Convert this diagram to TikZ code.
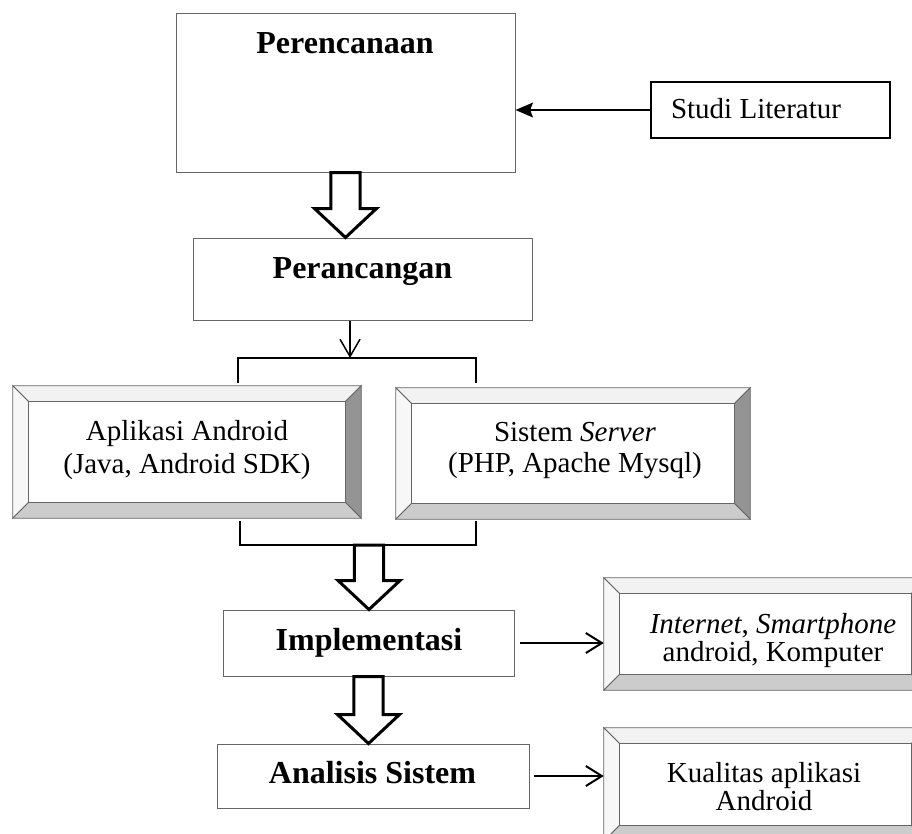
\documentclass[tikz,border=0pt]{standalone}
\usepackage{fontspec}
\setmainfont{Liberation Serif}
\usetikzlibrary{arrows.meta,fit,calc}

% Beveled frame drawn around an (invisible) rectangular node
% #1 = node name, #2 = bevel width
\newcommand\bevelframe[2]{%
  \filldraw[bevtop] (#1.north west) -- (#1.north east) -- ([shift={(-#2,#2)}]#1.north east) -- ([shift={(#2,#2)}]#1.north west) -- cycle;
  \filldraw[bevleft] (#1.north west) -- ([shift={(#2,#2)}]#1.north west) -- ([shift={(#2,-#2)}]#1.south west) -- (#1.south west) -- cycle;
  \filldraw[bevright] (#1.north east) -- (#1.south east) -- ([shift={(-#2,-#2)}]#1.south east) -- ([shift={(-#2,#2)}]#1.north east) -- cycle;
  \filldraw[bevbottom] (#1.south west) -- (#1.south east) -- ([shift={(-#2,-#2)}]#1.south east) -- ([shift={(#2,-#2)}]#1.south west) -- cycle;
  \filldraw[bevedge, fill=white] ([shift={(#2,#2)}]#1.north west) rectangle ([shift={(-#2,-#2)}]#1.south east);
}

% Outlined block arrow pointing down, from #1 (top) to #2 (tip)
\newcommand\blockarrow[2]{%
  \draw[hollowarrow] let \p1=#1, \p2=#2 in
    (\x1-10.9pt,\y1) -- (\x1-10.9pt,\y2+21.75pt) -- (\x1-23.25pt,\y2+21.75pt)
    -- (\x1,\y2) -- (\x1+23.25pt,\y2+21.75pt) -- (\x1+10.9pt,\y2+21.75pt)
    -- (\x1+10.9pt,\y1) -- cycle;
}

\begin{document}
\begin{tikzpicture}[
  x=0.75pt, y=-0.75pt,
  plainbox/.style={draw=black!60, line width=0.75pt, fill=white, inner sep=0pt},
  framebox/.style={draw=none, inner sep=0pt},
  bevedge/.style={draw=black!60, line width=0.6pt},
  bevtop/.style={bevedge, fill=black!5},
  bevleft/.style={bevedge, fill=black!3},
  bevright/.style={bevedge, fill=black!42},
  bevbottom/.style={bevedge, fill=black!20},
  boldlbl/.style={font=\fontsize{24}{28}\selectfont\bfseries, anchor=base, inner sep=0pt},
  lbl/.style={font=\fontsize{21.75}{26}\selectfont, anchor=base, inner sep=0pt},
  hollowarrow/.style={draw=black, line width=2.25pt, fill=white, line join=miter},
  bracketline/.style={draw=black, line width=1.5pt},
  sidearrow/.style={draw=black, line width=1.5pt, -{Straight Barb[length=12pt,width=15pt,line width=1.5pt]}},
  downarrow/.style={draw=black, line width=1.1pt, -{Straight Barb[length=13pt,width=15pt,line width=1.1pt]}},
  inarrow/.style={draw=black, line width=1.6pt, -{Stealth[length=13pt,width=11pt,inset=2pt]}},
]
\useasboundingbox (0,0) rectangle (912,833);
\clip (0,0) rectangle (912,833);
\fill[white] (0,0) rectangle (912,833);

% main process boxes
\node[plainbox, fit={(176,13) (515,172)}] (plan) {};
\node[plainbox, fit={(193,238) (532,320)}] (pcg) {};
\node[plainbox, fit={(223,610) (514,676)}] (impl) {};
\node[plainbox, fit={(217,744) (529,808)}] (ana) {};
\node[draw=black, line width=1.5pt, fill=white, inner sep=0pt, fit={(651,82) (890,138)}] (studi) {};

% beveled boxes
\node[framebox, fit={(13,386) (361,518)}] (app) {};
\node[framebox, fit={(396,388) (750,519)}] (srv) {};
\node[framebox, fit={(604,578) (927,690)}] (inet) {};
\node[framebox, fit={(604,728) (927,841)}] (kual) {};
\bevelframe{app}{16}
\bevelframe{srv}{16}
\bevelframe{inet}{16}
\bevelframe{kual}{16}

% labels
\node[boldlbl] (plan-t) at (345,53) {Perencanaan};
\node[boldlbl] (pcg-t) at (362.5,278) {Perancangan};
\node[boldlbl] (impl-t) at (369,650) {Implementasi};
\node[boldlbl] (ana-t) at (372.5,783) {Analisis Sistem};
\node[lbl] (studi-t) at (756,118) {Studi Literatur};
\node[lbl] (app-t1) at (187,440) {Aplikasi Android};
\node[lbl] (app-t2) at (187,473) {(Java, Android SDK)};
\node[lbl] (srv-t1) at (575,441) {Sistem \textit{Server}};
\node[lbl] (srv-t2) at (575,472) {(PHP, Apache Mysql)};
\node[lbl] (inet-t1) at (773,633) {\textit{Internet}, \textit{Smartphone}};
\node[lbl] (inet-t2) at (773,661) {android, Komputer};
\node[lbl] (kual-t1) at (764,782) {Kualitas aplikasi};
\node[lbl] (kual-t2) at (764,810) {Android};

% bracket joints
\coordinate (split) at (350,358);
\coordinate (brkL) at (238,383);
\coordinate (brkR) at (476,383);
\coordinate (join) at (369,545);
\coordinate (brkBL) at (240,521);
\coordinate (brkBR) at (476,521);

% connectors
\draw[inarrow] (studi.west) -- (studi.west -| plan.east);
\blockarrow{(plan.south)}{(plan.south |- pcg.north)}
\draw[downarrow] (pcg.south -| split) -- (split);
\draw[bracketline] (brkL) |- (split) -| (brkR);
\draw[bracketline] (brkBL) |- (join) -| (brkBR);
\blockarrow{(join)}{(impl.north)}
\draw[sidearrow, shorten <=3.75pt] (impl.east) -- (impl.east -| inet.west);
\blockarrow{(impl.south)}{(impl.south |- ana.north)}
\draw[sidearrow, shorten <=3pt] (ana.east) -- (ana.east -| kual.west);
\end{tikzpicture}
\end{document}
